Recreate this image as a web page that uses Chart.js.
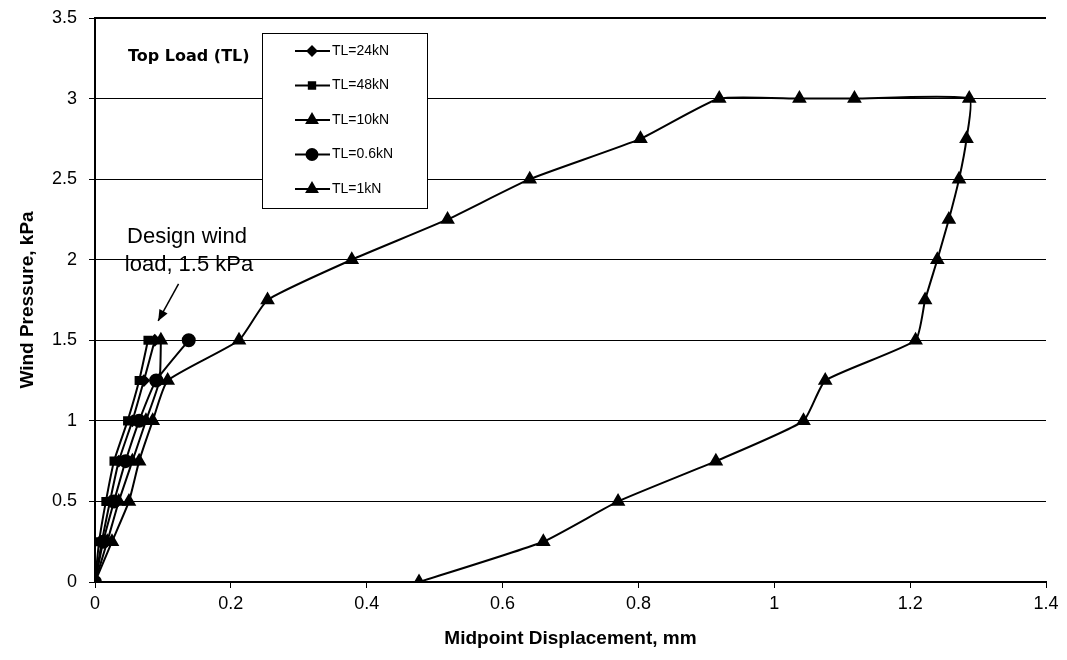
<!DOCTYPE html>
<html lang="en">
<head>
    <meta charset="UTF-8">
    <title>Wind pressure vs midpoint displacement</title>
    <script src="https://cdn.jsdelivr.net/npm/chart.js"></script>
    <style>
        body { margin: 0; background: #fff; }
        .chartBox { width: 1067px; height: 660px; }
    </style>
</head>
<body>
    <div class="chartBox">
        <canvas id="myChart" width="1067" height="660"></canvas>
    </div>
    <script>
        // pressure steps shared by the short (pre-design) tests
        const pressureSteps = [0, 0.25, 0.5, 0.75, 1, 1.25, 1.5];
        const disp24kN = [0, 0.010, 0.022, 0.035, 0.055, 0.072, 0.088];
        const disp48kN = [0, 0.006, 0.016, 0.028, 0.048, 0.065, 0.078];
        const disp10kN = [0, 0.018, 0.035, 0.055, 0.075, 0.095, 0.097];
        const disp06kN = [0, 0.012, 0.028, 0.045, 0.065, 0.090, 0.138];

        // TL=1kN: loading up to 3 kPa, then unloading
        const pressure1kN = [0, 0.25, 0.5, 0.75, 1, 1.25, 1.5, 1.75, 2, 2.25, 2.5, 2.75, 3, 3, 3, 3,
            2.75, 2.5, 2.25, 2, 1.75, 1.5, 1.25, 1, 0.75, 0.5, 0.25, 0];
        const disp1kN = [0, 0.025, 0.05, 0.065, 0.085, 0.107, 0.212, 0.254, 0.378, 0.519, 0.64, 0.803, 0.919, 1.037, 1.118, 1.287,
            1.283, 1.272, 1.257, 1.24, 1.222, 1.208, 1.075, 1.043, 0.914, 0.77, 0.66, 0.477];

        const seriesLabels = ['TL=24kN', 'TL=48kN', 'TL=10kN', 'TL=0.6kN', 'TL=1kN'];
        const xTicks = [0, 0.2, 0.4, 0.6, 0.8, 1, 1.2, 1.4];
        const yTicks = [0, 0.5, 1, 1.5, 2, 2.5, 3, 3.5];

        function toPoints(xs, ys) {
            return xs.map((x, i) => ({ x: x, y: ys[i] }));
        }

        function series(label, xs, ys, style, radius) {
            return {
                label: label,
                data: toPoints(xs, ys),
                showLine: true,
                borderColor: '#000',
                backgroundColor: '#000',
                borderWidth: 2,
                pointStyle: style,
                pointRadius: radius,
                pointHoverRadius: radius,
                tension: 0.15
            };
        }

        const datasets = [
            series(seriesLabels[0], disp24kN, pressureSteps, 'rectRot', 5),
            series(seriesLabels[1], disp48kN, pressureSteps, 'rect', 5),
            series(seriesLabels[2], disp10kN, pressureSteps, 'triangle', 6.5),
            series(seriesLabels[3], disp06kN, pressureSteps, 'circle', 6),
            series(seriesLabels[4], disp1kN, pressure1kN, 'triangle', 6.5)
        ];

        // legend box and notes drawn inside the plot
        const notes = {
            id: 'notes',
            afterDatasetsDraw(chart) {
                const ctx = chart.ctx;
                const xs = chart.scales.x, ys = chart.scales.y;
                ctx.save();

                // legend box
                const bx = 262, by = 33, bw = 165, bh = 175;
                ctx.fillStyle = '#fff';
                ctx.fillRect(bx, by, bw, bh);
                ctx.strokeStyle = '#000';
                ctx.lineWidth = 1;
                ctx.strokeRect(bx + 0.5, by + 0.5, bw, bh);
                ctx.font = '14px "Liberation Sans", Arial';
                ctx.textBaseline = 'middle';
                chart.data.datasets.forEach((ds, i) => {
                    const y = by + 18 + i * 34.5;
                    ctx.strokeStyle = '#000';
                    ctx.lineWidth = 2;
                    ctx.beginPath();
                    ctx.moveTo(bx + 33, y);
                    ctx.lineTo(bx + 68, y);
                    ctx.stroke();
                    Chart.helpers.drawPoint(ctx, {
                        pointStyle: ds.pointStyle,
                        radius: ds.pointRadius - 0.5,
                        rotation: 0,
                        borderWidth: 1
                    }, bx + 50, y);
                    ctx.fillStyle = '#000';
                    ctx.fill();
                    ctx.textAlign = 'left';
                    ctx.fillText(ds.label, bx + 70, y);
                });

                // "Top Load (TL)"
                ctx.font = 'bold 16px "DejaVu Sans", "Liberation Sans", Arial';
                ctx.textAlign = 'left';
                ctx.fillText('Top Load (TL)', 128, 57);

                // design wind note
                ctx.font = '22px "Liberation Sans", Arial';
                ctx.textAlign = 'center';
                ctx.fillText('Design wind', 187, 237);
                ctx.fillText('load, 1.5 kPa', 189, 265);

                // arrow
                const x1 = xs.getPixelForValue(0.123), y1 = ys.getPixelForValue(1.85);
                const x2 = xs.getPixelForValue(0.093), y2 = ys.getPixelForValue(1.62);
                ctx.lineWidth = 1.5;
                ctx.beginPath();
                ctx.moveTo(x1, y1);
                ctx.lineTo(x2, y2);
                ctx.stroke();
                const a = Math.atan2(y2 - y1, x2 - x1);
                ctx.beginPath();
                ctx.moveTo(x2, y2);
                ctx.lineTo(x2 - 12 * Math.cos(a - 0.4), y2 - 12 * Math.sin(a - 0.4));
                ctx.lineTo(x2 - 12 * Math.cos(a + 0.4), y2 - 12 * Math.sin(a + 0.4));
                ctx.closePath();
                ctx.fill();

                // heavier top edge of plot
                ctx.lineWidth = 2;
                ctx.beginPath();
                ctx.moveTo(chart.chartArea.left, chart.chartArea.top);
                ctx.lineTo(chart.chartArea.right, chart.chartArea.top);
                ctx.stroke();
                ctx.restore();
            }
        };

        const tickFont = { family: '"Liberation Sans", Arial', size: 18 };
        const titleFont = { family: '"Liberation Sans", Arial', size: 19, weight: 'bold' };

        new Chart(document.getElementById('myChart'), {
            type: 'scatter',
            data: { datasets: datasets },
            options: {
                responsive: false,
                animation: false,
                layout: { padding: { left: 12, right: 21, top: 18, bottom: 6 } },
                plugins: {
                    legend: { display: false },
                    tooltip: { enabled: false }
                },
                scales: {
                    x: {
                        type: 'linear',
                        min: 0,
                        max: 1.4,
                        afterBuildTicks: (scale) => { scale.ticks = xTicks.map(v => ({ value: v })); },
                        ticks: {
                            color: '#000',
                            font: tickFont,
                            padding: 5,
                            maxRotation: 0,
                            callback: (v) => String(Number(v.toFixed(1)))
                        },
                        grid: { drawOnChartArea: false, drawTicks: true, tickLength: 6, color: '#000' },
                        border: { color: '#000', width: 2 },
                        title: { display: true, text: 'Midpoint Displacement, mm', color: '#000', font: titleFont, padding: { top: 3 } },
                        afterFit: (scale) => {
                            scale.height = 72;
                            scale.paddingLeft = 0;
                            scale.paddingRight = 0;
                        }
                    },
                    y: {
                        type: 'linear',
                        min: 0,
                        max: 3.5,
                        afterBuildTicks: (scale) => { scale.ticks = yTicks.map(v => ({ value: v })); },
                        ticks: {
                            color: '#000',
                            font: tickFont,
                            padding: 12,
                            callback: (v) => String(Number(v.toFixed(1)))
                        },
                        grid: { color: '#000', lineWidth: 1, tickLength: 6 },
                        border: { color: '#000', width: 2 },
                        title: { display: true, text: 'Wind Pressure, kPa', color: '#000', font: titleFont, padding: { bottom: 6 } },
                        afterFit: (scale) => {
                            scale.width = 83;
                            scale.paddingTop = 0;
                            scale.paddingBottom = 0;
                        }
                    }
                }
            },
            plugins: [notes]
        });
    </script>
</body>
</html>
